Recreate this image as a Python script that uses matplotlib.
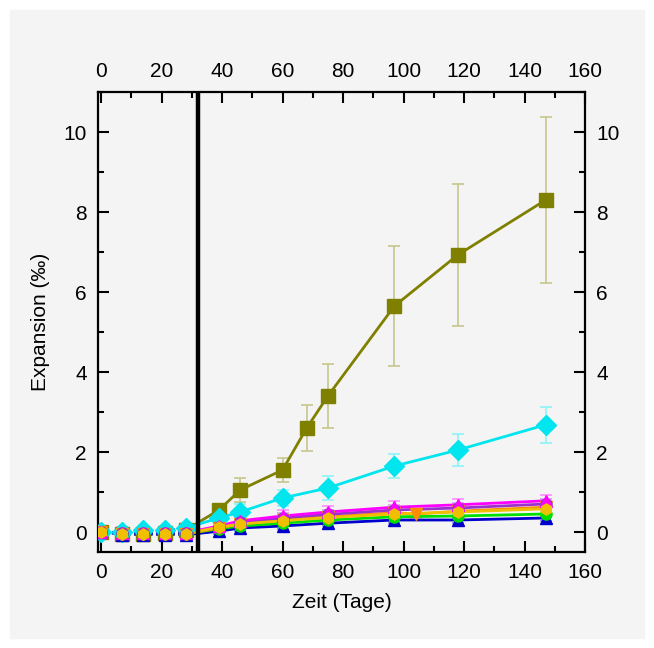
import matplotlib.pyplot as plt
import matplotlib.colors as mcolors
from matplotlib.patches import Rectangle
from matplotlib.ticker import MultipleLocator

plt.rcParams['font.family'] = ['Liberation Sans', 'DejaVu Sans']

# Tage der Messungen
tage = [0, 7, 14, 21, 28, 39, 46, 60, 68, 75, 97, 104, 118, 147]

# Expansion (‰) je Serie, None = nicht gemessen
oliv = [0.0, -0.05, -0.05, -0.03, 0.05, 0.55, 1.05, 1.55, 2.6, 3.4, 5.65, None, 6.93, 8.3]
oliv_err = [0.05, 0.05, 0.05, 0.05, 0.05, 0.15, 0.3, 0.3, 0.57, 0.8, 1.5, None, 1.77, 2.08]
cyan = [0.0, 0.0, 0.05, 0.05, 0.1, 0.35, 0.5, 0.85, None, 1.1, 1.65, None, 2.05, 2.68]
cyan_err = [0.05, 0.05, 0.05, 0.05, 0.05, 0.1, 0.2, 0.2, None, 0.3, 0.3, None, 0.4, 0.45]
magenta = [0.0, -0.02, -0.02, -0.02, -0.02, 0.15, 0.28, 0.4, None, 0.5, 0.62, None, 0.68, 0.78]
lila = [0.0, -0.03, -0.03, -0.03, -0.03, 0.12, 0.24, 0.35, None, 0.44, 0.55, None, 0.6, 0.7]
orange = [0.0, -0.05, -0.05, -0.05, -0.05, 0.1, 0.2, 0.3, None, 0.38, 0.48, 0.45, 0.52, 0.62]
gelb = [0.0, -0.04, -0.04, -0.04, -0.04, 0.12, 0.2, 0.28, None, 0.36, 0.45, None, 0.5, 0.58]
gruen = [0.0, -0.05, -0.05, -0.05, -0.05, 0.08, 0.15, 0.22, None, 0.3, 0.38, None, 0.4, 0.45]
blau = [0.0, -0.07, -0.07, -0.07, -0.07, 0.02, 0.1, 0.15, None, 0.22, 0.3, None, 0.3, 0.35]

serien = [
    ('oliv', oliv, oliv_err, '#808000', 's'),
    ('cyan', cyan, cyan_err, '#00e5ee', 'D'),
    ('blau', blau, 0.08, '#0000cc', '^'),
    ('gruen', gruen, 0.08, '#00e000', 'o'),
    ('orange', orange, 0.1, '#ff8c00', 'v'),
    ('lila', lila, 0.12, '#9933cc', 'o'),
    ('magenta', magenta, 0.15, '#ff00ff', '^'),
    ('gelb', gelb, 0.1, '#f0c000', 'h'),
]

fig = plt.figure(figsize=(6.54, 6.48), dpi=100, facecolor='white')
fig.patches.append(Rectangle((10 / 654, 10 / 648), 634 / 654, 628 / 648,
                             transform=fig.transFigure, color='#f4f4f4', zorder=-10))
ax = fig.add_axes([98 / 654, 1 - 552 / 648, 487 / 654, 460 / 648])
ax.set_facecolor('#f4f4f4')

for i, (name, werte, fehler, farbe, marker) in enumerate(serien):
    xs = [t for t, v in zip(tage, werte) if v is not None]
    ys = [v for v in werte if v is not None]
    if isinstance(fehler, list):
        es = [e for e in fehler if e is not None]
    else:
        es = [fehler] * len(ys)
    hell = mcolors.to_rgba(farbe)
    hell = tuple(0.45 * c + 0.55 for c in hell[:3])
    ms = 10 if marker in ('s', 'D') else 8
    ax.errorbar(xs, ys, yerr=es, fmt='none', ecolor=hell, elinewidth=1.2,
                capsize=4, capthick=1.2, zorder=2)
    # vor der Lagerung gepunktet, danach durchgezogen
    n0 = sum(1 for t in xs if t <= 28)
    ax.plot(xs[:n0], ys[:n0], ':', color='#2222cc', lw=1.5, zorder=3)
    ax.plot(xs[n0 - 1:], ys[n0 - 1:], '-', color=farbe, lw=2, zorder=3)
    ax.plot(xs, ys, linestyle='none', marker=marker, ms=ms, color=farbe,
            markeredgecolor=farbe, zorder=4 + i * 0.1)

ax.axvline(32, color='black', lw=3.2, zorder=6)

ax.set_xlim(-1, 160)
ax.set_ylim(-0.5, 11)
ax.xaxis.set_major_locator(MultipleLocator(20))
ax.xaxis.set_minor_locator(MultipleLocator(10))
ax.yaxis.set_major_locator(MultipleLocator(2))
ax.yaxis.set_minor_locator(MultipleLocator(1))
ax.tick_params(which='both', direction='in', top=True, right=True,
               labeltop=True, labelright=True, width=1.5, labelsize=15, pad=8)
ax.tick_params(which='major', length=8)
ax.tick_params(which='minor', length=4)
for s in ax.spines.values():
    s.set_linewidth(1.6)

ax.set_xlabel('Zeit (Tage)', fontsize=15, labelpad=8)
ax.set_ylabel('Expansion (‰)', fontsize=15, labelpad=10)

fig.savefig('out.png', dpi=100, facecolor=fig.get_facecolor())
